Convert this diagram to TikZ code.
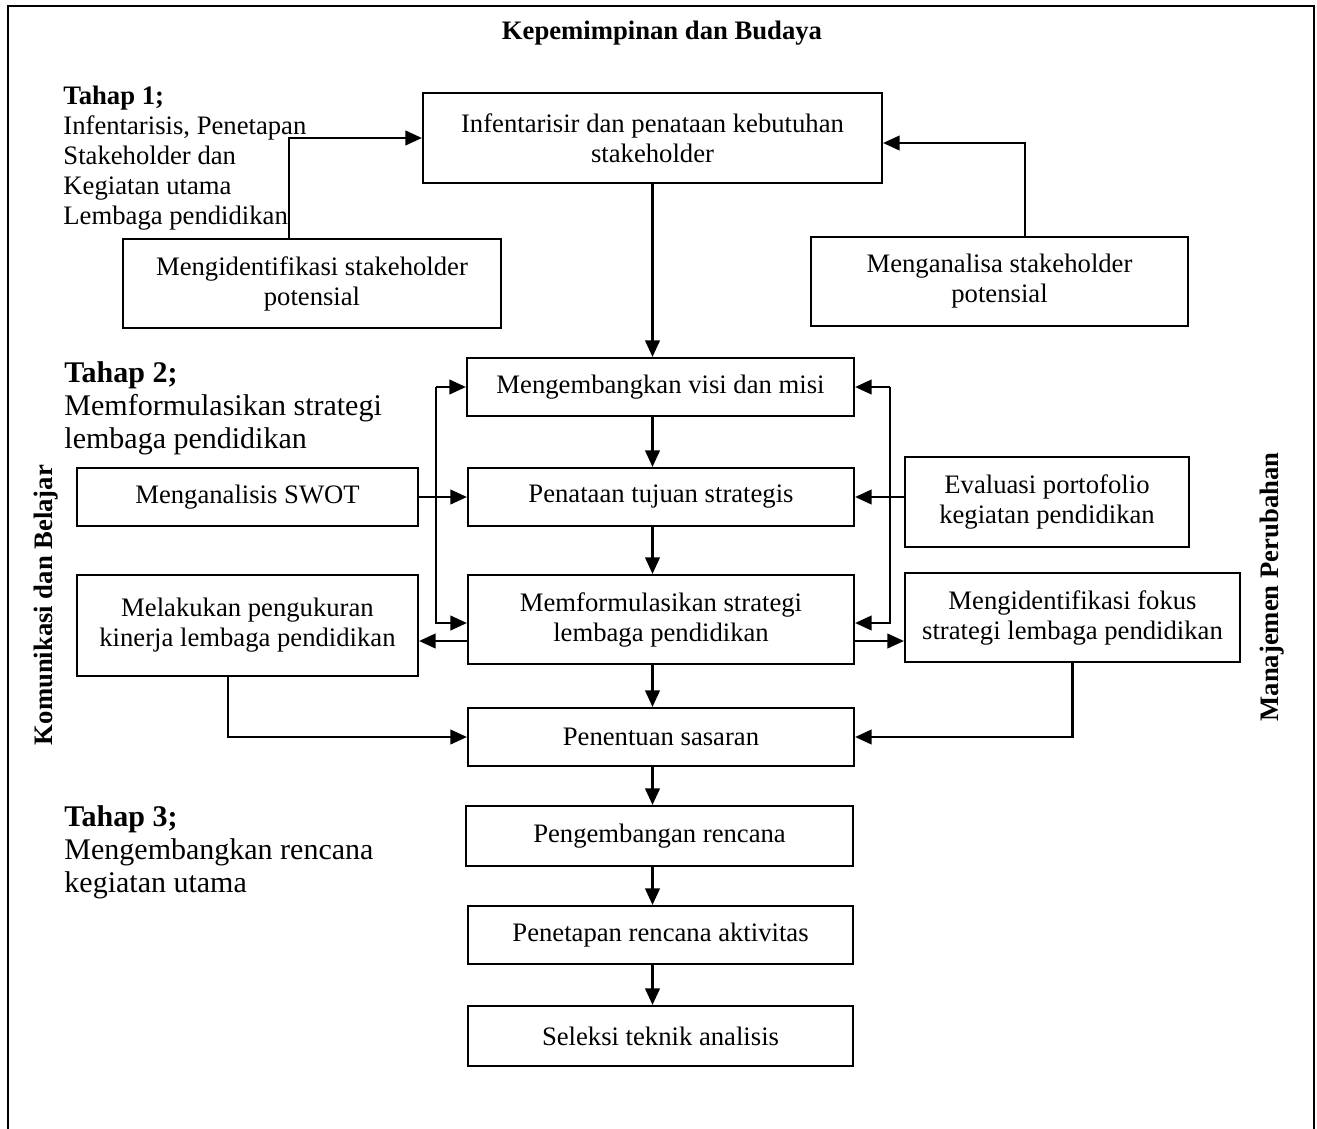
\documentclass[tikz,border=0pt]{standalone}
\usepackage{fontspec}
\setmainfont{Liberation Serif}
\usetikzlibrary{arrows.meta}

\tikzset{
  kotak/.style={draw, line width=0.9pt, align=center, inner sep=2pt},
  ukuran/.style 2 args={minimum width=#1*0.45pt, minimum height=#2*0.45pt},
  panah/.style={-{Triangle[length=7.5pt,width=6.5pt]}, line width=1.25pt},
  tahap/.style={anchor=north west, align=left, inner sep=0pt},
}

\begin{document}
\begin{tikzpicture}[x=0.45pt, y=-0.45pt, font=\fontsize{12}{13.5}\selectfont]
  \useasboundingbox (0,0) rectangle (1317,1128);
  \draw[line width=0.9pt] (8,6) rectangle (1314,1140);

  \node (judul) at (662,33) {\bfseries Kepemimpinan dan Budaya};

  % tahap 1
  \node[tahap] (tahap1) at (63,86) {\textbf{Tahap 1;}\\Infentarisis, Penetapan\\Stakeholder dan\\Kegiatan utama\\Lembaga pendidikan};
  \node[kotak, ukuran={459}{90}] (infentarisir) at (652.5,138) {Infentarisir dan penataan kebutuhan\\stakeholder};
  \node[kotak, ukuran={378}{89}] (identifikasi) at (312,283.5) {Mengidentifikasi stakeholder\\potensial};
  \node[kotak, ukuran={377}{89}] (analisa) at (999.5,281.5) {Menganalisa stakeholder\\potensial};

  % tahap 2
  \node[tahap, font=\fontsize{13.5}{15}\selectfont] (tahap2) at (64,361) {\textbf{Tahap 2;}\\Memformulasikan strategi\\lembaga pendidikan};
  \node[kotak, ukuran={387}{58}] (visi) at (660.5,387) {Mengembangkan visi dan misi};
  \node[kotak, ukuran={386}{58}] (tujuan) at (661,497) {Penataan tujuan strategis};
  \node[kotak, ukuran={386}{89}] (formulasi) at (661,619.5) {Memformulasikan strategi\\lembaga pendidikan};
  \node[kotak, ukuran={386}{58}] (sasaran) at (661,737) {Penentuan sasaran};
  \node[kotak, ukuran={341}{58}] (swot) at (247.5,497) {Menganalisis SWOT};
  \node[kotak, ukuran={341}{101}] (kinerja) at (247.5,625.5) {Melakukan pengukuran\\kinerja lembaga pendidikan};
  \node[kotak, ukuran={284}{90}] (portofolio) at (1047,502) {Evaluasi portofolio\\kegiatan pendidikan};
  \node[kotak, ukuran={335}{89}] (fokus) at (1072.5,617.5) {Mengidentifikasi fokus\\strategi lembaga pendidikan};

  % tahap 3
  \node[tahap, font=\fontsize{13.5}{15}\selectfont] (tahap3) at (64,805) {\textbf{Tahap 3;}\\Mengembangkan rencana\\kegiatan utama};
  \node[kotak, ukuran={387}{60}] (rencana) at (659.5,836) {Pengembangan rencana};
  \node[kotak, ukuran={385}{58}] (aktivitas) at (660.5,935) {Penetapan rencana aktivitas};
  \node[kotak, ukuran={385}{60}] (seleksi) at (660.5,1036) {Seleksi teknik analisis};

  % label samping
  \node[rotate=90] (komunikasi) at (46,605) {\bfseries Komunikasi dan Belajar};
  \node[rotate=90] (manajemen) at (1272,587) {\bfseries Manajemen Perubahan};

  \coordinate (kiriAtas) at (436,387);
  \coordinate (kiriBawah) at (436,623);
  \coordinate (kananAtas) at (890,387);
  \coordinate (kananBawah) at (890,623);
  \coordinate (garis) at (661,641);

  \draw[panah] ([xshift=-10.4pt]identifikasi.north) |- (infentarisir.west);
  \draw[panah] ([xshift=11.5pt]analisa.north) |- ([yshift=-2.25pt]infentarisir.east);
  \draw[panah] (infentarisir.south) -- (infentarisir.south |- visi.north);
  \foreach \dari/\ke in {visi/tujuan, tujuan/formulasi, formulasi/sasaran, sasaran/rencana, rencana/aktivitas, aktivitas/seleksi}
    \draw[panah] (\dari.south -| infentarisir.south) -- (\ke.north -| infentarisir.south);

  \draw[panah] (swot) -- (tujuan);
  \draw[panah] (kiriAtas) -- (visi.west);
  \draw[panah] (kiriAtas) -- (kiriBawah) -- (formulasi.west |- kiriBawah);
  \draw[panah] (kananAtas) -- (visi.east);
  \draw[panah] (kananAtas) -- (kananBawah) -- (formulasi.east |- kananBawah);
  \draw[panah] (portofolio.west |- tujuan.east) -- (tujuan.east);
  \draw[panah] (formulasi.west |- garis) -- (kinerja.east |- garis);
  \draw[panah] (formulasi.east |- garis) -- (fokus.west |- garis);
  \draw[panah] ([xshift=-8.8pt]kinerja.south) |- (sasaran.west);
  \draw[panah] (fokus.south) |- (sasaran.east);
\end{tikzpicture}
\end{document}
